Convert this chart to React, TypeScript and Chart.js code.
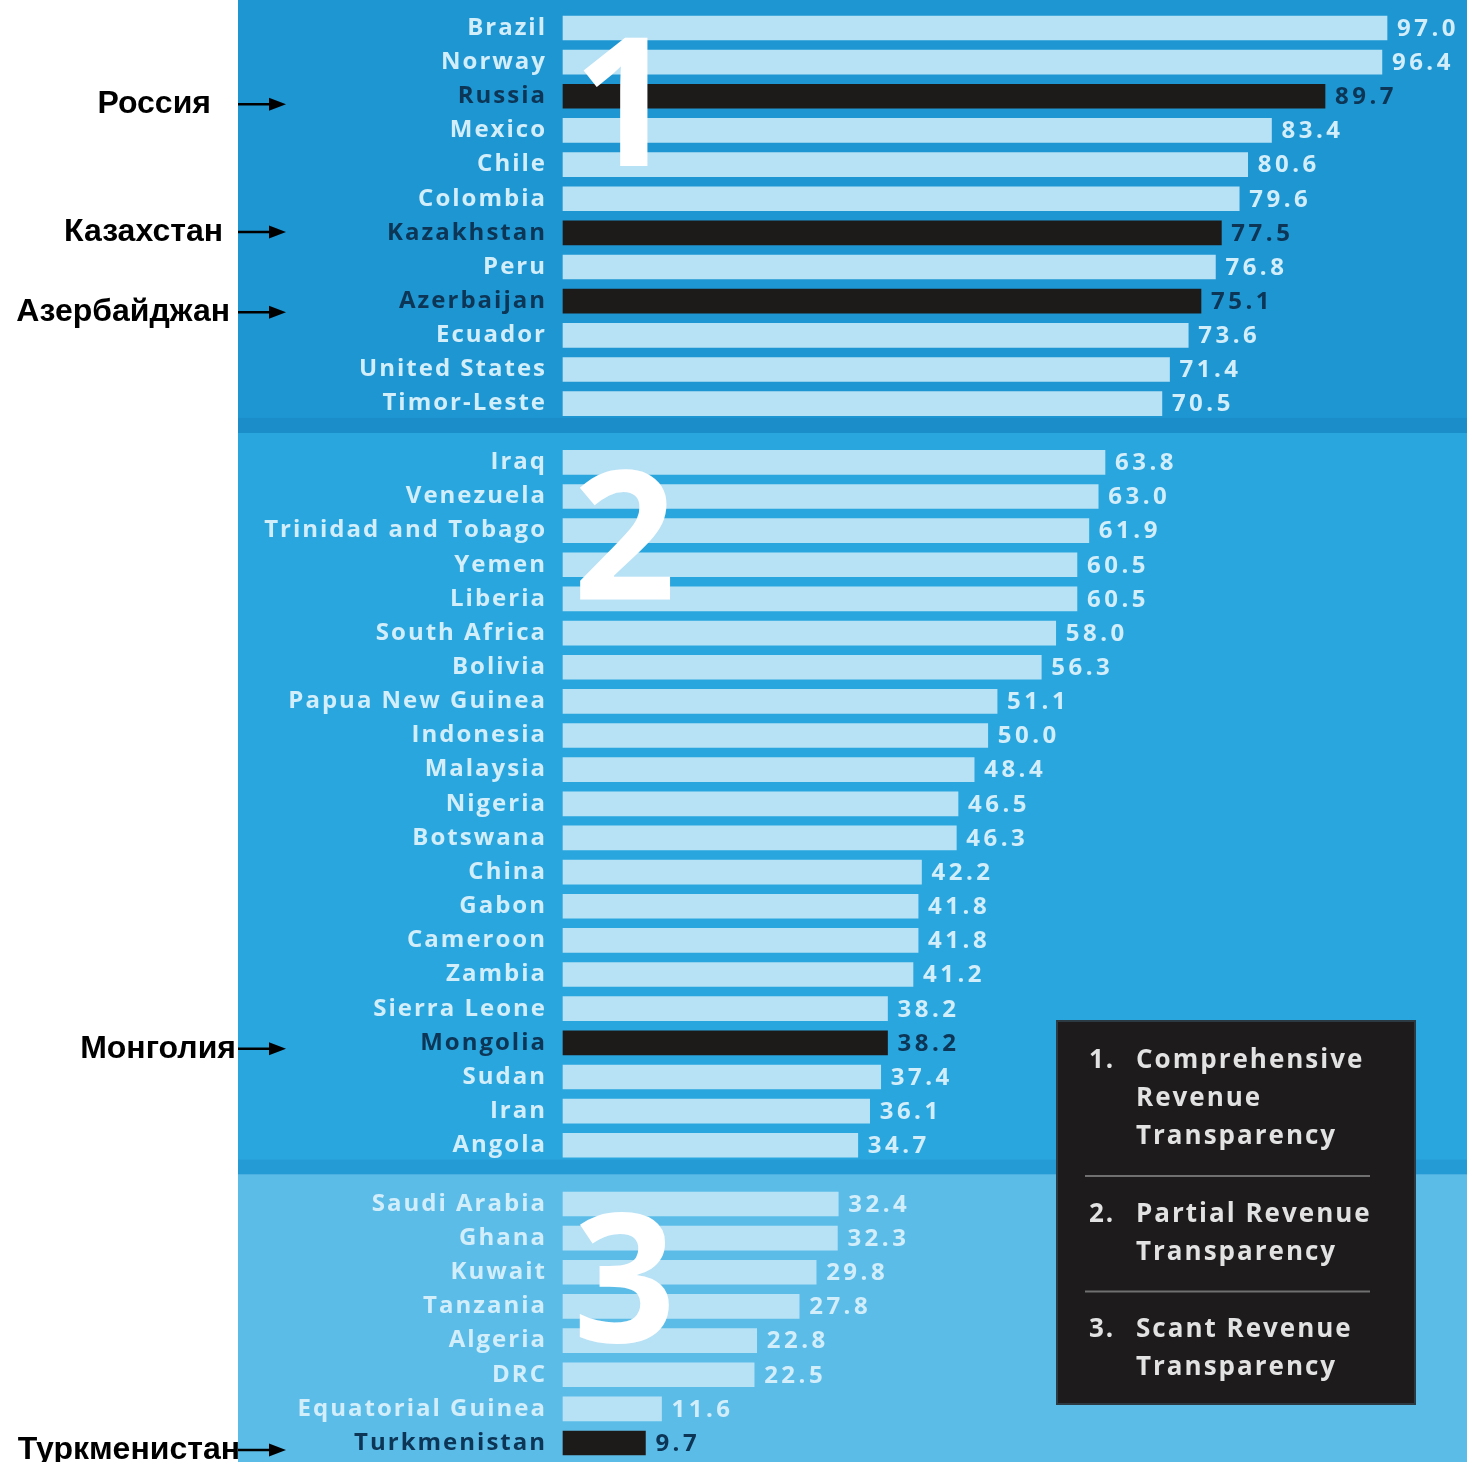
import React, { useEffect, useRef } from "react";
import { Chart, registerables } from "chart.js";

Chart.register(...registerables);

// ---------- DATA ----------
const section1Countries = [
  "Brazil", "Norway", "Russia", "Mexico", "Chile", "Colombia",
  "Kazakhstan", "Peru", "Azerbaijan", "Ecuador", "United States", "Timor-Leste",
];
const section1Scores = [97.0, 96.4, 89.7, 83.4, 80.6, 79.6, 77.5, 76.8, 75.1, 73.6, 71.4, 70.5];

const section2Countries = [
  "Iraq", "Venezuela", "Trinidad and Tobago", "Yemen", "Liberia", "South Africa",
  "Bolivia", "Papua New Guinea", "Indonesia", "Malaysia", "Nigeria", "Botswana",
  "China", "Gabon", "Cameroon", "Zambia", "Sierra Leone", "Mongolia", "Sudan",
  "Iran", "Angola",
];
const section2Scores = [
  63.8, 63.0, 61.9, 60.5, 60.5, 58.0, 56.3, 51.1, 50.0, 48.4, 46.5, 46.3,
  42.2, 41.8, 41.8, 41.2, 38.2, 38.2, 37.4, 36.1, 34.7,
];

const section3Countries = [
  "Saudi Arabia", "Ghana", "Kuwait", "Tanzania", "Algeria", "DRC",
  "Equatorial Guinea", "Turkmenistan",
];
const section3Scores = [32.4, 32.3, 29.8, 27.8, 22.8, 22.5, 11.6, 9.7];

const highlightedCountries = ["Russia", "Kazakhstan", "Azerbaijan", "Mongolia", "Turkmenistan"];

const sectionNumbers = ["1", "2", "3"];

const legendNumbers = ["1.", "2.", "3."];
const legendTexts = [
  ["Comprehensive", "Revenue", "Transparency"],
  ["Partial Revenue", "Transparency"],
  ["Scant Revenue", "Transparency"],
];

const annotationCountries = ["Russia", "Kazakhstan", "Azerbaijan", "Mongolia", "Turkmenistan"];
const annotationLabels = ["Россия", "Казахстан", "Азербайджан", "Монголия", "Туркменистан"];

// ---------- LAYOUT / STYLE ----------
const W = 1467;
const H = 1462;
const PANEL_LEFT = 238;
const AXIS_WIDTH = 563;
const X_MAX = (W - AXIS_WIDTH) / 8.495;
const SECTION_GAP = 0.72;
const Y_MIN = -0.82;
const Y_MAX = 41.996;

const SECTION_BG = ["#1e96d2", "#2aa6de", "#5cbce8"];
const SECTION_SHADE = ["#1b8dc8", "#259bd5", "#5cbce8"];
const LIGHT_BAR = "#b7e1f5";
const DARK_BAR = "#1d1a1a";
const LIGHT_TEXT = "#d3eefb";
const DARK_TEXT = "#0c3556";

const ANNOT_LAYOUT = [
  { right: 211, dy: 8 },
  { right: 223, dy: -1 },
  { right: 230, dy: 11 },
  { right: 236, dy: 6 },
  { right: 240, dy: 7 },
];

const LEGEND_BOX = { left: 1056, top: 1020, right: 1416, bottom: 1405 };

// ---------- DERIVED ROWS ----------
type Row = { name: string; score: number; section: number; pos: number };
const sectionsData = [
  { countries: section1Countries, scores: section1Scores },
  { countries: section2Countries, scores: section2Scores },
  { countries: section3Countries, scores: section3Scores },
];
const rows: Row[] = [];
{
  let idx = 0;
  sectionsData.forEach((s, si) => {
    s.countries.forEach((c, i) => {
      rows.push({ name: c, score: s.scores[i], section: si, pos: idx + si * SECTION_GAP });
      idx++;
    });
  });
}
const isHL = (name: string) => highlightedCountries.includes(name);

export default function App() {
  const ref = useRef<HTMLCanvasElement | null>(null);

  useEffect(() => {
    const canvas = ref.current;
    if (!canvas) return;

    const bgPlugin = {
      id: "sectionBackground",
      beforeDraw(chart: any) {
        const { ctx } = chart;
        const y = chart.scales.y;
        ctx.save();
        ctx.fillStyle = "#ffffff";
        ctx.fillRect(0, 0, W, H);
        const bounds: number[] = [0];
        for (let si = 0; si < sectionsData.length - 1; si++) {
          const lastRow = rows.filter((r) => r.section === si).slice(-1)[0];
          const firstNext = rows.find((r) => r.section === si + 1)!;
          bounds.push((y.getPixelForValue(lastRow.pos) + y.getPixelForValue(firstNext.pos)) / 2);
        }
        bounds.push(H);
        for (let si = 0; si < sectionsData.length; si++) {
          ctx.fillStyle = SECTION_BG[si];
          ctx.fillRect(PANEL_LEFT, bounds[si], W - PANEL_LEFT, bounds[si + 1] - bounds[si]);
          if (si < sectionsData.length - 1) {
            ctx.fillStyle = SECTION_SHADE[si];
            ctx.fillRect(PANEL_LEFT, bounds[si + 1] - 15, W - PANEL_LEFT, 15);
          }
        }
        ctx.restore();
        (ctx as any).letterSpacing = "2px";
      },
    };

    const labelsPlugin = {
      id: "valueAndDecor",
      afterDatasetsDraw(chart: any) {
        const { ctx } = chart;
        (ctx as any).letterSpacing = "3.5px";
        const meta = chart.getDatasetMeta(0);
        ctx.save();
        ctx.font = '700 24px "Open Sans"';
        ctx.textAlign = "left";
        ctx.textBaseline = "middle";
        meta.data.forEach((el: any, i: number) => {
          const r = rows[i];
          ctx.fillStyle = isHL(r.name) ? DARK_TEXT : LIGHT_TEXT;
          ctx.fillText(r.score.toFixed(1), el.x + 10, el.y + 1);
        });
        ctx.restore();

        (ctx as any).letterSpacing = "0px";
        const y = chart.scales.y;
        ctx.save();
        ctx.font = '700 180px "Open Sans"';
        ctx.fillStyle = "#ffffff";
        ctx.textAlign = "left";
        ctx.textBaseline = "alphabetic";
        sectionNumbers.forEach((n, si) => {
          const first = rows.find((r) => r.section === si)!;
          ctx.fillText(n, chart.chartArea.left + 10, y.getPixelForValue(first.pos) + 138);
        });
        ctx.restore();
      },
      afterDraw(chart: any) {
        const { ctx } = chart;
        const y = chart.scales.y;
        ctx.save();
        (ctx as any).letterSpacing = "2px";
        const b = LEGEND_BOX;
        ctx.fillStyle = "#1d1b1b";
        ctx.fillRect(b.left, b.top, b.right - b.left, b.bottom - b.top);
        ctx.strokeStyle = "#2c3a44";
        ctx.lineWidth = 2;
        ctx.strokeRect(b.left + 1, b.top + 1, b.right - b.left - 2, b.bottom - b.top - 2);
        ctx.font = '700 26px "Open Sans"';
        ctx.fillStyle = "#e2e2e2";
        ctx.textBaseline = "middle";
        ctx.textAlign = "left";
        let ly = b.top + 41;
        legendTexts.forEach((lines, gi) => {
          ctx.fillText(legendNumbers[gi], b.left + 33, ly);
          lines.forEach((t, li) => {
            ctx.fillText(t, b.left + 80, ly + li * 38);
          });
          const last = ly + (lines.length - 1) * 38;
          if (gi < legendTexts.length - 1) {
            const sepY = last + 39;
            ctx.strokeStyle = "#707070";
            ctx.lineWidth = 2;
            ctx.beginPath();
            ctx.moveTo(b.left + 29, sepY);
            ctx.lineTo(b.left + 314, sepY);
            ctx.stroke();
          }
          ly = last + 77.5;
        });
        ctx.restore();

        ctx.save();
        (ctx as any).letterSpacing = "0px";
        ctx.font = 'bold 32px "Liberation Sans", Arial, sans-serif';
        ctx.fillStyle = "#000000";
        ctx.strokeStyle = "#000000";
        ctx.textAlign = "right";
        ctx.textBaseline = "middle";
        annotationCountries.forEach((c, i) => {
          const row = rows.find((r) => r.name === c)!;
          const lay = ANNOT_LAYOUT[i];
          const py = y.getPixelForValue(row.pos) + lay.dy;
          ctx.fillText(annotationLabels[i], lay.right, py);
          ctx.lineWidth = 2.5;
          ctx.beginPath();
          ctx.moveTo(238, py);
          ctx.lineTo(272, py);
          ctx.stroke();
          ctx.beginPath();
          ctx.moveTo(286, py);
          ctx.lineTo(269, py - 6.5);
          ctx.lineTo(269, py + 6.5);
          ctx.closePath();
          ctx.fill();
        });
        ctx.restore();
      },
    };

    const zeroPad = (s: any) => {
      s.paddingTop = 0;
      s.paddingBottom = 0;
      if (s._margins) {
        s._margins.top = 0;
        s._margins.bottom = 0;
      }
    };

    const chart = new Chart(canvas, {
      type: "bar",
      data: {
        datasets: [
          {
            data: rows.map((r) => ({ x: r.score, y: r.pos })),
            backgroundColor: rows.map((r) => (isHL(r.name) ? DARK_BAR : LIGHT_BAR)),
            barThickness: 24,
            borderWidth: 0,
            clip: false,
          } as any,
        ],
      },
      options: {
        animation: false,
        responsive: true,
        maintainAspectRatio: false,
        indexAxis: "y",
        layout: { padding: 0 },
        plugins: {
          legend: { display: false },
          tooltip: { enabled: false },
        },
        scales: {
          x: { type: "linear", min: 0, max: X_MAX, display: false, offset: false },
          y: {
            type: "linear",
            reverse: true,
            offset: false,
            min: Y_MIN,
            max: Y_MAX,
            grid: { display: false, offset: false },
            border: { display: false },
            afterFit: (s: any) => {
              s.width = AXIS_WIDTH;
              zeroPad(s);
            },
            afterBuildTicks: (s: any) => {
              s.ticks = rows.map((r) => ({ value: r.pos }));
            },
            ticks: {
              autoSkip: false,
              padding: 8,
              color: (c: any) => (rows[c.index] && isHL(rows[c.index].name) ? DARK_TEXT : LIGHT_TEXT),
              font: { family: '"Open Sans"', weight: "700" as any, size: 24 },
              callback: (_v: any, i: number) => (rows[i] ? rows[i].name : ""),
            },
          } as any,
        },
      },
      plugins: [bgPlugin, labelsPlugin],
    });

    return () => chart.destroy();
  }, []);

  return (
    <div style={{ position: "absolute", left: 0, top: 0, width: W, height: H }}>
      <canvas ref={ref} />
    </div>
  );
}
